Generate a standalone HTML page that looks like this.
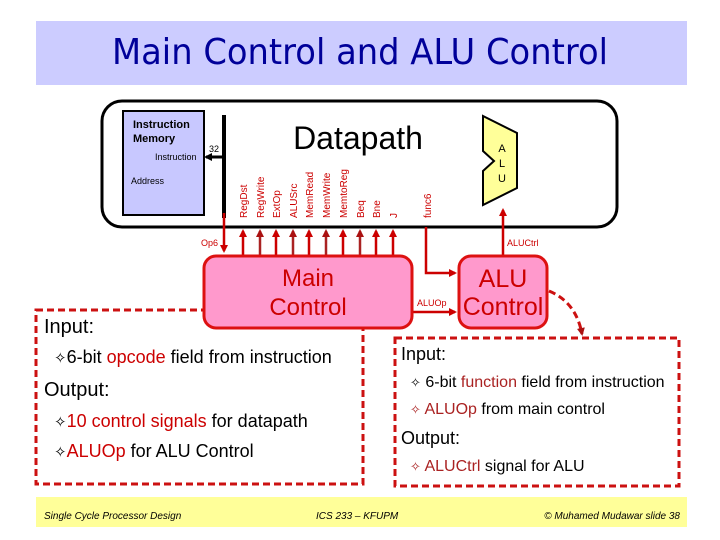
<!DOCTYPE html>
<html><head><meta charset="utf-8"><style>
html,body{margin:0;padding:0;background:#fff}
svg{display:block}
text{font-family:"Liberation Sans",sans-serif}
</style></head><body>
<svg width="720" height="540" viewBox="0 0 720 540" xmlns="http://www.w3.org/2000/svg">
<defs>
<marker id="ah" markerWidth="8" markerHeight="8" refX="6" refY="4" orient="auto" markerUnits="userSpaceOnUse">
<path d="M0,0 L8,4 L0,8 z" fill="#cc0000"/></marker>
<marker id="ahd" markerWidth="8" markerHeight="8" refX="6" refY="4" orient="auto" markerUnits="userSpaceOnUse">
<path d="M0,0 L8,4 L0,8 z" fill="#aa1111"/></marker>
<marker id="ahk" markerWidth="8" markerHeight="8" refX="6" refY="4" orient="auto" markerUnits="userSpaceOnUse">
<path d="M0,0 L8,4 L0,8 z" fill="#000"/></marker>
</defs>
<rect x="36" y="21" width="651" height="64" fill="#ccccff"/>
<text x="360" y="64" text-anchor="middle" font-size="36" fill="#000099" style="font-family:'DejaVu Sans','Liberation Sans',sans-serif" textLength="496" lengthAdjust="spacingAndGlyphs">Main Control and ALU Control</text>

<rect x="36" y="310" width="327" height="174" fill="none" stroke="#cc1111" stroke-width="3" stroke-dasharray="7,4"/>
<rect x="395" y="338" width="284" height="148" fill="none" stroke="#cc1111" stroke-width="3" stroke-dasharray="7,4"/>

<rect x="102" y="101" width="515" height="126" rx="20" fill="#fff" stroke="#000" stroke-width="3"/>
<rect x="123" y="111" width="81" height="104" fill="#c8c8ff" stroke="#000" stroke-width="2"/>
<text x="133" y="128" font-size="11" font-weight="bold">Instruction</text>
<text x="133" y="142" font-size="11" font-weight="bold">Memory</text>
<text x="155" y="160" font-size="9">Instruction</text>
<text x="131" y="184" font-size="9">Address</text>
<line x1="224" y1="115" x2="224" y2="218" stroke="#000" stroke-width="4"/>
<line x1="222" y1="157" x2="206" y2="157" stroke="#000" stroke-width="3" marker-end="url(#ahk)"/>
<text x="209" y="152" font-size="9">32</text>
<text x="358" y="149" text-anchor="middle" font-size="32">Datapath</text>
<polygon points="483,116 517,133 517,188 483,205 483,171 494,161 483,151" fill="#ffff99" stroke="#000" stroke-width="2"/>
<text x="502" y="152" font-size="11" text-anchor="middle">A</text>
<text x="502" y="167" font-size="11" text-anchor="middle">L</text>
<text x="502" y="182" font-size="11" text-anchor="middle">U</text>

<g font-size="10" fill="#cc0000">
<text transform="translate(247,218) rotate(-90)">RegDst</text>
<text transform="translate(264,218) rotate(-90)">RegWrite</text>
<text transform="translate(280,218) rotate(-90)">ExtOp</text>
<text transform="translate(297,218) rotate(-90)">ALUSrc</text>
<text transform="translate(313,218) rotate(-90)">MemRead</text>
<text transform="translate(330,218) rotate(-90)">MemWrite</text>
<text transform="translate(347,218) rotate(-90)">MemtoReg</text>
<text transform="translate(364,218) rotate(-90)">Beq</text>
<text transform="translate(380,218) rotate(-90)">Bne</text>
<text transform="translate(397,218) rotate(-90)">J</text>
<text transform="translate(431,218) rotate(-90)">func6</text>
</g>

<g stroke-width="2.5">
<line x1="243" y1="255" x2="243" y2="231" stroke="#cc0000" marker-end="url(#ah)"/>
<line x1="260" y1="255" x2="260" y2="231" stroke="#aa2222" marker-end="url(#ahd)"/>
<line x1="276" y1="255" x2="276" y2="231" stroke="#cc0000" marker-end="url(#ah)"/>
<line x1="293" y1="255" x2="293" y2="231" stroke="#aa2222" marker-end="url(#ahd)"/>
<line x1="309" y1="255" x2="309" y2="231" stroke="#cc0000" marker-end="url(#ah)"/>
<line x1="326" y1="255" x2="326" y2="231" stroke="#aa2222" marker-end="url(#ahd)"/>
<line x1="343" y1="255" x2="343" y2="231" stroke="#cc0000" marker-end="url(#ah)"/>
<line x1="360" y1="255" x2="360" y2="231" stroke="#aa2222" marker-end="url(#ahd)"/>
<line x1="376" y1="255" x2="376" y2="231" stroke="#cc0000" marker-end="url(#ah)"/>
<line x1="393" y1="255" x2="393" y2="231" stroke="#cc0000" marker-end="url(#ah)"/>
<line x1="224" y1="213" x2="224" y2="251" stroke="#cc0000" marker-end="url(#ah)"/>
<polyline points="426,227 426,273 455,273" fill="none" stroke="#cc0000" marker-end="url(#ah)"/>
<line x1="503" y1="255" x2="503" y2="210" stroke="#cc0000" marker-end="url(#ah)"/>
<line x1="412" y1="312" x2="455" y2="312" stroke="#cc0000" marker-end="url(#ah)"/>
</g>
<text x="201" y="246" font-size="9" fill="#cc0000">Op6</text>
<text x="507" y="246" font-size="9" fill="#cc0000">ALUCtrl</text>
<text x="417" y="306" font-size="9" fill="#cc0000">ALUOp</text>

<rect x="204" y="256" width="208" height="72" rx="12" fill="#ff99cc" stroke="#dd1111" stroke-width="3"/>
<text x="308" y="286" text-anchor="middle" font-size="24" fill="#cc0000">Main</text>
<text x="308" y="315" text-anchor="middle" font-size="24" fill="#cc0000">Control</text>
<rect x="459" y="256" width="88" height="72" rx="12" fill="#ff99cc" stroke="#dd1111" stroke-width="3"/>
<text x="503" y="287" text-anchor="middle" font-size="25" fill="#cc0000">ALU</text>
<text x="503" y="315" text-anchor="middle" font-size="25" fill="#cc0000">Control</text>
<path d="M549,291 Q576,302 582,334" fill="none" stroke="#cc1111" stroke-width="3" stroke-dasharray="7,4" marker-end="url(#ahd)"/>

<text x="44" y="333" font-size="20">Input:</text>
<text x="54" y="363" font-size="18"><tspan font-size="15">✧</tspan>6-bit <tspan fill="#cc0000">opcode</tspan> field from instruction</text>
<text x="44" y="396" font-size="20">Output:</text>
<text x="54" y="427" font-size="18"><tspan font-size="15">✧</tspan><tspan fill="#cc0000">10 control signals</tspan> for datapath</text>
<text x="54" y="457" font-size="18"><tspan font-size="15">✧</tspan><tspan fill="#cc0000">ALUOp</tspan> for ALU Control</text>

<text x="401" y="360" font-size="18">Input:</text>
<text x="410" y="387" font-size="16"><tspan font-size="13">✧</tspan> 6-bit <tspan fill="#aa2222">function</tspan> field from instruction</text>
<text x="410" y="414" font-size="16"><tspan font-size="13" fill="#aa2222">✧</tspan> <tspan fill="#aa2222">ALUOp</tspan> from main control</text>
<text x="401" y="444" font-size="18">Output:</text>
<text x="410" y="471" font-size="16"><tspan font-size="13" fill="#aa2222">✧</tspan> <tspan fill="#aa2222">ALUCtrl</tspan> signal for ALU</text>

<rect x="36" y="497" width="651" height="30" fill="#ffff99"/>
<g font-size="10" font-style="italic" style="font-family:'Liberation Serif',serif">
<text x="44" y="519">Single Cycle Processor Design</text>
<text x="316" y="519">ICS 233 – KFUPM</text>
<text x="680" y="519" text-anchor="end">© Muhamed Mudawar  slide 38</text>
</g>
</svg>
</body></html>
